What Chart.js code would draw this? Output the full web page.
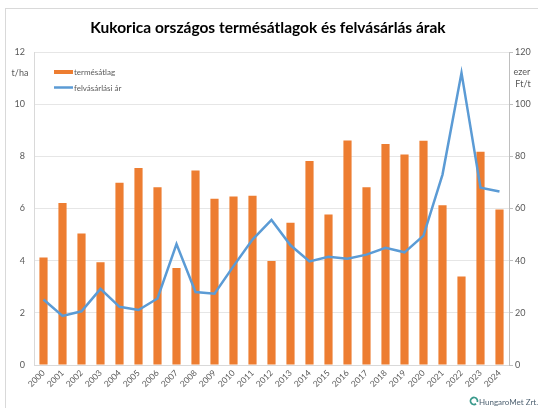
<!DOCTYPE html>
<html>
<head>
<meta charset="utf-8">
<script src="https://cdn.jsdelivr.net/npm/chart.js@4"></script>
<style>
    html, body { margin: 0; padding: 0; background: #fff; }
    #wrap { width: 538px; height: 408px; }
</style>
</head>
<body>
<div id="wrap"><canvas id="chart" width="538" height="408"></canvas></div>
<script>
const years = ["2000", "2001", "2002", "2003", "2004", "2005", "2006", "2007", "2008", "2009", "2010", "2011", "2012",
    "2013", "2014", "2015", "2016", "2017", "2018", "2019", "2020", "2021", "2022", "2023", "2024"]
const yieldTha = [4.12, 6.21, 5.04, 3.94, 6.99, 7.55, 6.81, 3.72, 7.46, 6.37, 6.46, 6.49, 3.99,
    5.45, 7.82, 5.77, 8.61, 6.81, 8.47, 8.07, 8.6, 6.12, 3.39, 8.18, 5.96]
const price = [25.1, 18.8, 20.6, 29.2, 22.3, 21.1, 25.5, 46.4, 28.0, 27.3, 37.9, 48.1, 55.6,
    45.9, 39.7, 41.5, 40.7, 42.3, 44.9, 43.2, 49.6, 73.0, 112.0, 68.0, 66.5]
const leftTicks = [0, 2, 4, 6, 8, 10, 12]
const rightTicks = [0, 20, 40, 60, 80, 100, 120]

const ORANGE = "#ED7D31"
const BLUE = "#5B9BD5"
const TEXT = "#595959"
const FONT = "Lato, 'Open Sans', sans-serif"

// frame, title, unit labels, legend, logo
const decorations = {
    id: "decorations",
    beforeDraw(chart) {
        const ctx = chart.ctx
        ctx.save()
        ctx.strokeStyle = "#D9D9D9"
        ctx.lineWidth = 1
        ctx.strokeRect(5.5, 8.5, 600, 500)
        ctx.restore()
    },
    afterDraw(chart) {
        const ctx = chart.ctx
        ctx.save()
        ctx.fillStyle = "#000"
        ctx.font = "bold 15.5px " + FONT
        ctx.textAlign = "center"
        ctx.textBaseline = "middle"
        ctx.fillText("Kukorica országos termésátlagok és felvásárlás árak", 268, 28)

        ctx.fillStyle = TEXT
        ctx.font = "9px " + FONT
        ctx.textAlign = "center"
        ctx.fillText("t/ha", 20, 73)
        ctx.fillText("ezer", 522, 72)
        ctx.fillText("Ft/t", 523, 84)

        // legend
        ctx.fillStyle = ORANGE
        ctx.fillRect(54, 70, 19, 4)
        ctx.strokeStyle = BLUE
        ctx.lineWidth = 2.5
        ctx.beginPath()
        ctx.moveTo(54, 87.5)
        ctx.lineTo(73, 87.5)
        ctx.stroke()
        ctx.fillStyle = TEXT
        ctx.font = "8px " + FONT
        ctx.textAlign = "left"
        ctx.fillText("termésátlag", 74, 72)
        ctx.fillText("felvásárlási ár", 74, 88)

        // logo
        ctx.strokeStyle = "#3A9A8C"
        ctx.lineWidth = 1.8
        ctx.beginPath()
        ctx.arc(474, 401, 3.5, 0.3 * Math.PI, 2.1 * Math.PI)
        ctx.stroke()
        ctx.fillStyle = "#4F6272"
        ctx.font = "8px " + FONT
        ctx.fillText("HungaroMet Zrt.", 479, 402)
        ctx.restore()
    },
}

new Chart(document.getElementById("chart"), {
    data: {
        labels: years,
        datasets: [
            {
                type: "line",
                label: "felvásárlási ár",
                data: price,
                yAxisID: "y2",
                borderColor: BLUE,
                borderWidth: 2.5,
                pointRadius: 0,
                tension: 0,
                order: 0,
            },
            {
                type: "bar",
                label: "termésátlag",
                data: yieldTha,
                yAxisID: "y",
                backgroundColor: ORANGE,
                barPercentage: 0.43,
                categoryPercentage: 1,
                order: 1,
            },
        ],
    },
    options: {
        responsive: false,
        animation: false,
        layout: { padding: { top: 52, left: 0, right: 0, bottom: 0 } },
        plugins: {
            legend: { display: false },
            title: { display: false },
            tooltip: { enabled: false },
        },
        scales: {
            x: {
                grid: { display: false, drawTicks: false },
                border: { color: "#D9D9D9" },
                ticks: {
                    color: TEXT,
                    font: { size: 8.5, family: FONT },
                    minRotation: 45,
                    maxRotation: 45,
                    autoSkip: false,
                    padding: 3,
                },
                afterFit: (s) => { s.height = 43 },
            },
            y: {
                position: "left",
                min: 0,
                max: 12,
                afterBuildTicks: (s) => { s.ticks = leftTicks.map((v) => ({ value: v })) },
                grid: { color: "#E6E6E6", drawTicks: false },
                border: { color: "#D9D9D9" },
                ticks: { color: TEXT, font: { size: 9, family: FONT }, padding: 9 },
                afterFit: (s) => { s.width = 34 },
            },
            y2: {
                position: "right",
                min: 0,
                max: 120,
                afterBuildTicks: (s) => { s.ticks = rightTicks.map((v) => ({ value: v })) },
                grid: { drawOnChartArea: false, color: "#BFBFBF", tickLength: 4 },
                border: { color: "#BFBFBF" },
                ticks: { color: TEXT, font: { size: 9, family: FONT }, padding: 2 },
                afterFit: (s) => { s.width = 29 },
            },
        },
    },
    plugins: [decorations],
})
</script>
</body>
</html>
